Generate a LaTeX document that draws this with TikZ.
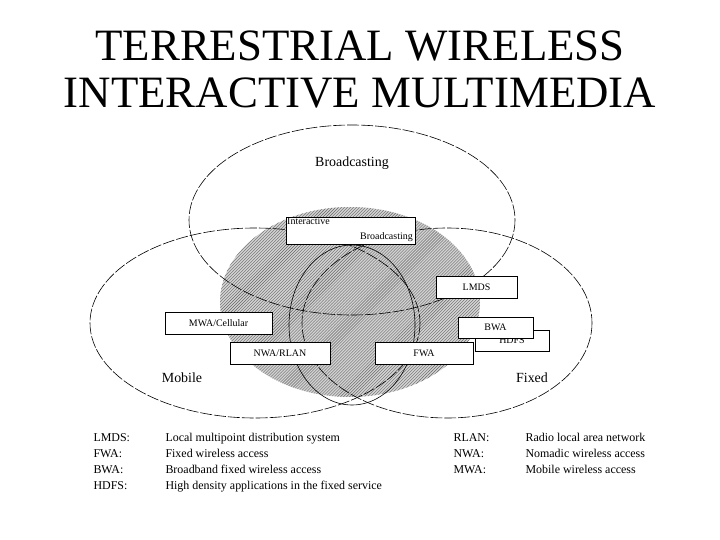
\documentclass[tikz,border=0pt]{standalone}
\usepackage{fontspec}
\setmainfont{Liberation Serif}
\usetikzlibrary{patterns}
\begin{document}
\begin{tikzpicture}[x=1bp, y=-1bp,
  ring/.style={draw, line width=.6pt, dash pattern=on 12pt off 2pt},
  tag/.style={draw, fill=white, inner sep=0, font=\fontsize{10}{11}\selectfont},
  legend/.style={anchor=base west, font=\fontsize{12}{13}\selectfont}]
\useasboundingbox (0, 0) rectangle (720, 540);

\node (title) at (360, 75) {\fontsize{45}{47}\selectfont\begin{tabular}{c}TERRESTRIAL WIRELESS\\INTERACTIVE MULTIMEDIA\end{tabular}};

% shaded core
\fill[gray!35] (350, 302) ellipse [x radius=130, y radius=95];
\fill[pattern=north east lines, pattern color=gray!80!black] (350, 302) ellipse [x radius=130, y radius=95];

% three service areas
\draw[ring] (352, 220) ellipse [x radius=163, y radius=95];
\draw[ring] (255, 323) ellipse [x radius=165, y radius=95];
\draw[ring] (447, 323) ellipse [x radius=145, y radius=95];
\draw[line width=.6pt] (352, 325) ellipse [x radius=63, y radius=80];

\node (bc) at (352, 163) {\fontsize{14}{15}\selectfont Broadcasting};
\node (mob) at (182, 378) {\fontsize{14}{15}\selectfont Mobile};
\node (fix) at (532, 378) {\fontsize{14}{15}\selectfont Fixed};

\node[tag, minimum width=129, minimum height=27] (ib) at (350.5, 230.5) {};
\node[anchor=north west, inner sep=1, font=\fontsize{10}{11}\selectfont] (ib1) at (ib.north west) {Interactive};
\node[anchor=south east, inner sep=2, font=\fontsize{10}{11}\selectfont] (ib2) at (ib.south east) {Broadcasting};
\node[tag, minimum width=81, minimum height=22] (lmds) at (476.5, 287) {LMDS};
\node[tag, minimum width=107, minimum height=22] (mwa) at (218.5, 323) {MWA/Cellular};
\node[tag, minimum width=74, minimum height=21] (hdfs) at (512, 340.5) {\raisebox{-4pt}{HDFS}};
\node[tag, minimum width=75, minimum height=21] (bwa) at (495.5, 327.5) {BWA};
\node[tag, minimum width=100, minimum height=22] (nwa) at (280, 353) {NWA/RLAN};
\node[tag, minimum width=98, minimum height=22] (fwa) at (424, 353) {FWA};

% legend
\node[legend] (k1) at (90, 441) {LMDS:};
\node[legend] (k2) at (90, 457) {FWA:};
\node[legend] (k3) at (90, 473) {BWA:};
\node[legend] (k4) at (90, 489) {HDFS:};
\node[legend] (d1) at (162, 441) {Local multipoint distribution system};
\node[legend] (d2) at (162, 457) {Fixed wireless access};
\node[legend] (d3) at (162, 473) {Broadband fixed wireless access};
\node[legend] (d4) at (162, 489) {High density applications in the fixed service};
\node[legend] (k5) at (450, 441) {RLAN:};
\node[legend] (k6) at (450, 457) {NWA:};
\node[legend] (k7) at (450, 473) {MWA:};
\node[legend] (d5) at (522, 441) {Radio local area network};
\node[legend] (d6) at (522, 457) {Nomadic wireless access};
\node[legend] (d7) at (522, 473) {Mobile wireless access};
\end{tikzpicture}
\end{document}
